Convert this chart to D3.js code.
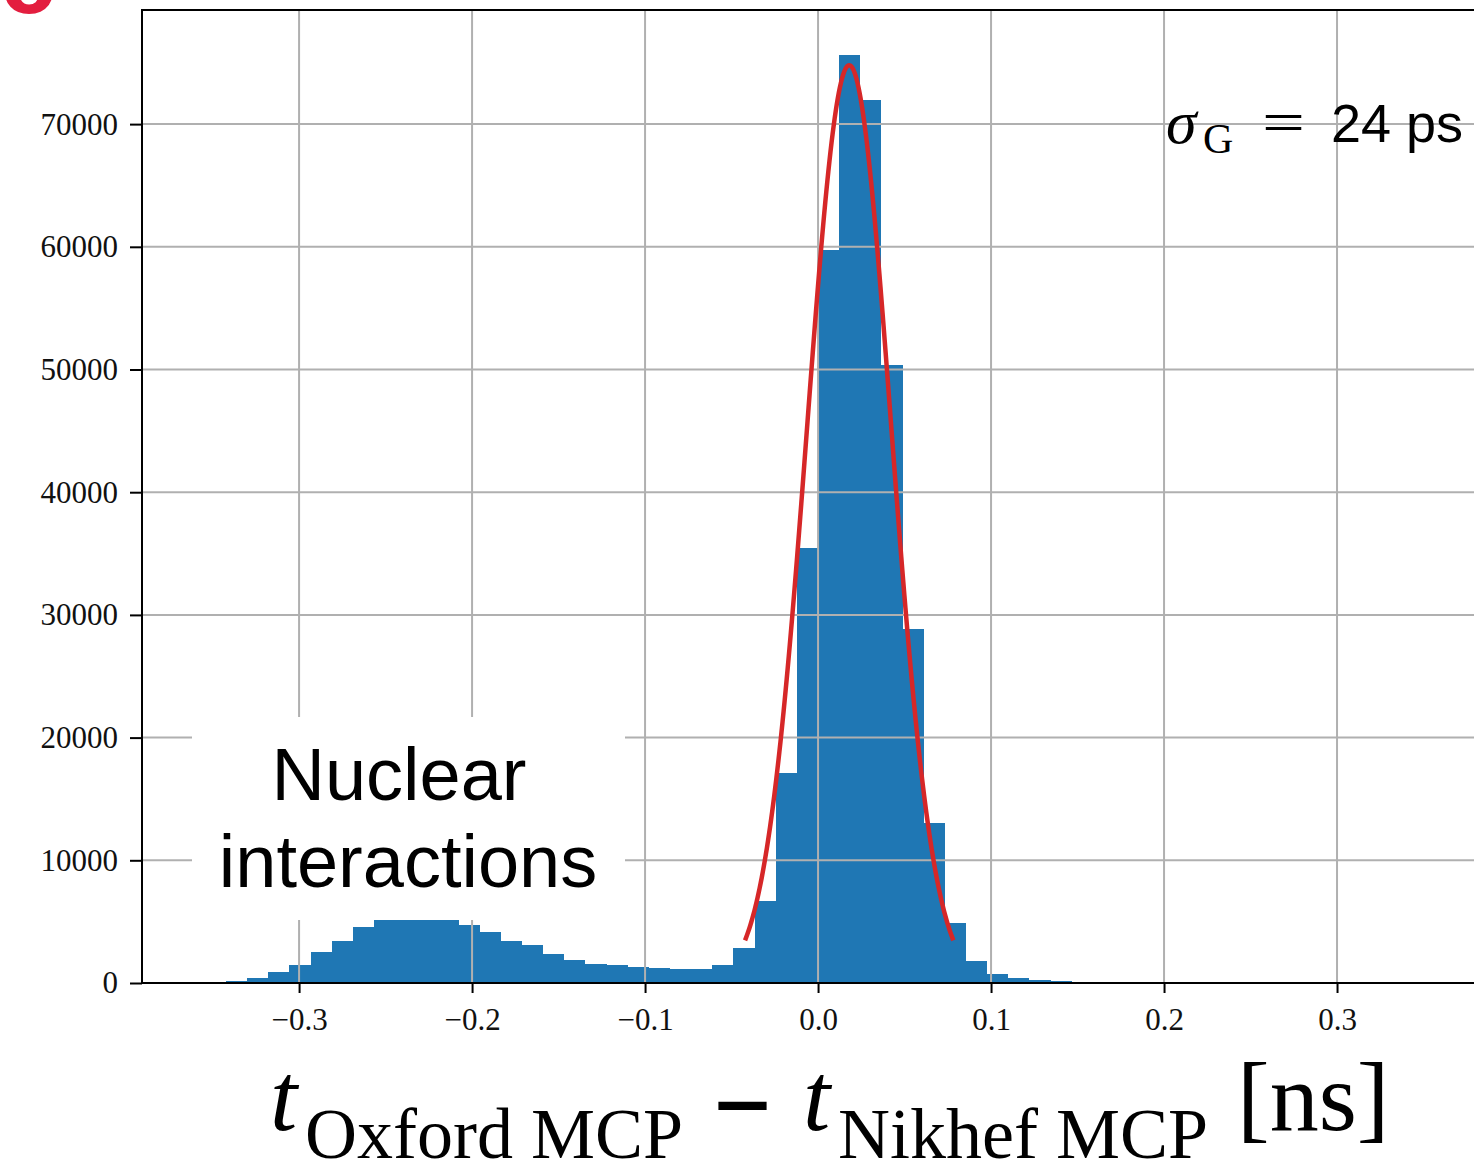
<!DOCTYPE html>
<html>
<head>
<meta charset="utf-8">
<script src="https://cdn.jsdelivr.net/npm/d3@7"></script>
<style>
  body { margin: 0; background: #fff; }
</style>
</head>
<body>
<div id="chart"></div>
<script>
// histogram: one count per bin, bins start at binStart and are binWidth wide
const binStart = -0.35444;
const binWidth = 0.012222;
const counts = [
  60, 200, 420, 890, 1430, 2520, 3460, 4560, 5150, 5250,
  5250, 5120, 4690, 4150, 3460, 3060, 2380, 1890, 1560, 1430,
  1320, 1260, 1160, 1150, 1480, 2830, 6720, 17100, 35450, 59780,
  75600, 71950, 50400, 28850, 13070, 4860, 1770, 725, 390, 260,
  150, 60, 25
];

const xTicks = [-0.3, -0.2, -0.1, 0.0, 0.1, 0.2, 0.3];
const yTicks = [0, 10000, 20000, 30000, 40000, 50000, 60000, 70000];

// gaussian fit drawn over the peak
const fitMu = 0.0180;
const fitSigma = 0.0243;
const fitAmp = 74800;
const fitRange = [-0.0422, 0.0782];

const W = 1474, H = 1175;
const plotLeft = 142, plotRight = 1482, plotTop = 10, plotBottom = 983;

const svg = d3.select("#chart")
  .append("svg")
    .attr("width", W)
    .attr("height", H);

const x = d3.scaleLinear()
  .domain([-0.3908, 0.3838])
  .range([plotLeft, plotRight]);

const y = d3.scaleLinear()
  .domain([0, 79300])
  .range([plotBottom, plotTop]);

const bins = counts.map((c, i) => ({
  lo: binStart + i * binWidth,
  hi: binStart + (i + 1) * binWidth,
  count: c
}));

// bars
svg.append("g")
  .attr("shape-rendering", "crispEdges")
  .selectAll("rect")
  .data(bins)
  .join("rect")
    .attr("x", d => Math.round(x(d.lo)))
    .attr("width", d => Math.round(x(d.hi)) - Math.round(x(d.lo)))
    .attr("y", d => y(d.count))
    .attr("height", d => y(0) - y(d.count))
    .attr("fill", "#1f77b4");

// grid on top of the bars
const grid = svg.append("g").attr("stroke", "#b0b0b0").attr("stroke-width", 2);
grid.selectAll(".gx")
  .data(xTicks)
  .join("line")
    .attr("x1", d => x(d)).attr("x2", d => x(d))
    .attr("y1", plotTop).attr("y2", plotBottom);
grid.selectAll(".gy")
  .data(yTicks)
  .join("line")
    .attr("x1", plotLeft).attr("x2", plotRight)
    .attr("y1", d => y(d)).attr("y2", d => y(d));

// fit curve
const fitPts = d3.range(0, 201).map(i => {
  const t = fitRange[0] + (fitRange[1] - fitRange[0]) * i / 200;
  return [t, fitAmp * Math.exp(-0.5 * ((t - fitMu) / fitSigma) ** 2)];
});
const line = d3.line()
  .x(d => x(d[0]))
  .y(d => y(d[1]));
svg.append("path")
  .attr("d", line(fitPts))
  .attr("fill", "none")
  .attr("stroke", "#d62728")
  .attr("stroke-width", 4.5);

// label with white background
svg.append("rect")
  .attr("x", 192).attr("y", 717)
  .attr("width", 433).attr("height", 203)
  .attr("fill", "#fff");
const lab = svg.append("g")
  .attr("font-family", "Liberation Sans, Arial, sans-serif")
  .attr("font-size", 74)
  .attr("text-anchor", "middle")
  .attr("fill", "#000");
lab.append("text").attr("x", 399).attr("y", 800).text("Nuclear");
lab.append("text").attr("x", 408).attr("y", 887).text("interactions");

// axes
const xAxis = svg.append("g")
  .attr("transform", `translate(0,${plotBottom})`)
  .call(d3.axisBottom(x).tickValues(xTicks).tickSize(10).tickPadding(15).tickFormat(d3.format(".1f")));
const yAxis = svg.append("g")
  .attr("transform", `translate(${plotLeft},0)`)
  .call(d3.axisLeft(y).tickValues(yTicks).tickSize(12).tickPadding(12).tickFormat(d3.format("d")));

[xAxis, yAxis].forEach(ax => {
  ax.select(".domain").remove();
  ax.selectAll(".tick line").attr("stroke", "#000").attr("stroke-width", 2);
  ax.selectAll(".tick text")
    .attr("fill", "#111")
    .style("font-family", "Liberation Serif, Times New Roman, serif")
    .style("font-size", "31px");
});

// spines
svg.append("rect")
  .attr("x", plotLeft).attr("y", plotTop)
  .attr("width", plotRight - plotLeft).attr("height", plotBottom - plotTop)
  .attr("fill", "none")
  .attr("stroke", "#000")
  .attr("stroke-width", 2);

// sigma annotation
const serif = "Liberation Serif, Times New Roman, serif";
svg.append("text")
  .attr("x", 1166).attr("y", 143)
  .attr("font-family", serif).attr("font-style", "italic").attr("font-size", 62)
  .text("σ");
svg.append("text")
  .attr("x", 1203).attr("y", 153)
  .attr("font-family", serif).attr("font-size", 42)
  .text("G");
svg.append("text")
  .attr("x", 1262).attr("y", 143)
  .attr("font-family", serif).attr("font-size", 62)
  .attr("textLength", 43).attr("lengthAdjust", "spacingAndGlyphs")
  .text("=");
svg.append("text")
  .attr("x", 1331).attr("y", 142)
  .attr("font-family", "Liberation Sans, Arial, sans-serif").attr("font-size", 54)
  .text("24 ps");

// x axis title
const xt = svg.append("g").attr("font-family", serif).attr("fill", "#000");
xt.append("text").attr("x", 270).attr("y", 1130)
  .attr("font-style", "italic").attr("font-size", 98).text("t");
xt.append("text").attr("x", 305).attr("y", 1158)
  .attr("font-size", 72).text("Oxford MCP");
xt.append("text").attr("x", 720).attr("y", 1127)
  .attr("font-size", 90).attr("font-weight", "bold")
  .attr("stroke", "#000").attr("stroke-width", 2)
  .attr("textLength", 45).attr("lengthAdjust", "spacingAndGlyphs")
  .text("–");
xt.append("text").attr("x", 803).attr("y", 1130)
  .attr("font-style", "italic").attr("font-size", 98).text("t");
xt.append("text").attr("x", 838).attr("y", 1158)
  .attr("font-size", 72).text("Nikhef MCP");
xt.append("text").attr("x", 1237).attr("y", 1130)
  .attr("font-size", 98).text("[ns]");

// panel letter, cut by the top edge
svg.append("text")
  .attr("x", 0).attr("y", 13)
  .attr("font-family", "Liberation Sans, Arial, sans-serif")
  .attr("font-weight", "bold")
  .attr("font-size", 100)
  .attr("fill", "#e31e3f")
  .text("c");
</script>
</body>
</html>
